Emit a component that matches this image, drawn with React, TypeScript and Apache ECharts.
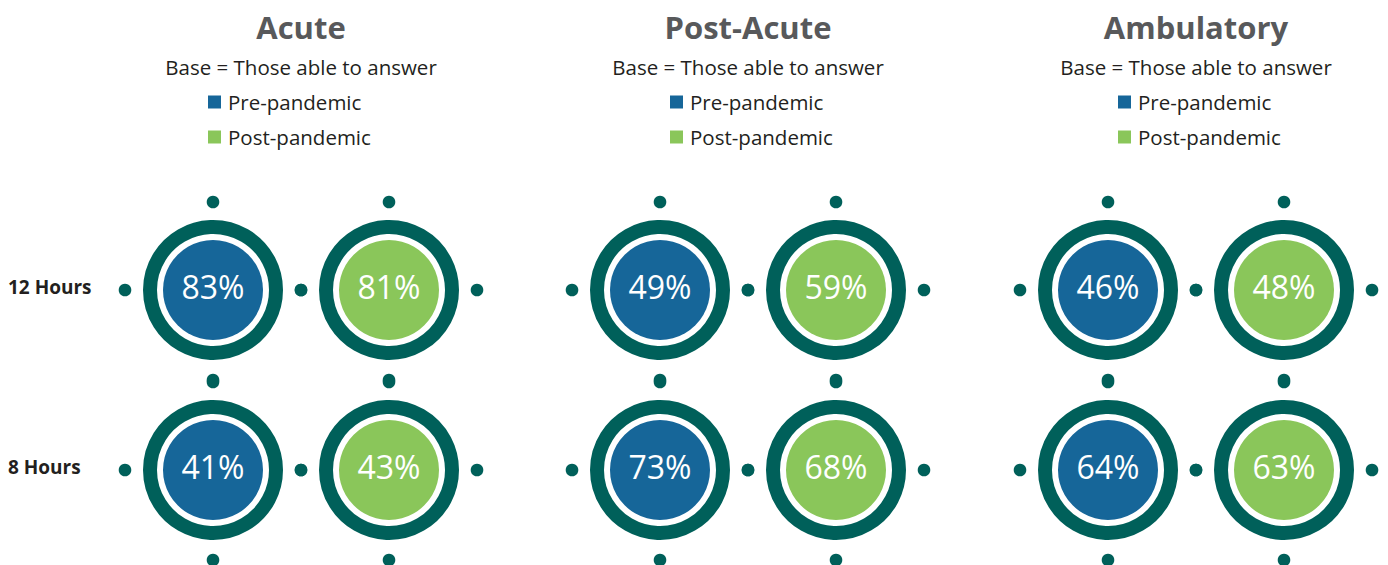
import React, { useEffect, useRef } from 'react';
import * as echarts from 'echarts';

const groups = ['Acute', 'Post-Acute', 'Ambulatory'];
const periods = ['Pre-pandemic', 'Post-pandemic'];
const shifts = ['12 Hours', '8 Hours'];
const subtitle = 'Base = Those able to answer';

// values ordered as [12 Hours, 8 Hours]
const acutePre = [83, 41];
const acutePost = [81, 43];
const postAcutePre = [49, 73];
const postAcutePost = [59, 68];
const ambulatoryPre = [46, 64];
const ambulatoryPost = [48, 63];

const groupValues = [
  [acutePre, acutePost],
  [postAcutePre, postAcutePost],
  [ambulatoryPre, ambulatoryPost],
];

const COLORS = ['#166699', '#8AC65A'];
const RING = '#00605A';
const GRID_LEFT = [125, 572, 1020];
const GRID_TOP = 200;
const CELL_W = 176;
const CELL_H = 180;
const LEGEND_LEFT = [208, 670, 1118];
const FONT = '"Open Sans", "Noto Sans", sans-serif';

const renderItem = (params: any, api: any) => {
  const c = api.coord([api.value(0), api.value(1)]);
  const s = api.size([1, 1]);
  const color = api.visual('color');
  const hx = s[0] / 2;
  const hy = s[1] / 2;
  const dot = (x: number, y: number) => ({
    type: 'circle',
    shape: { cx: x, cy: y, r: 6.3 },
    style: { fill: RING },
  });
  return {
    type: 'group',
    children: [
      dot(c[0] - hx, c[1]),
      dot(c[0] + hx, c[1]),
      dot(c[0], c[1] - hy + 2),
      dot(c[0], c[1] + hy),
      {
        type: 'circle',
        shape: { cx: c[0], cy: c[1], r: 63 },
        style: { fill: 'none', stroke: RING, lineWidth: 14 },
      },
      {
        type: 'circle',
        shape: { cx: c[0], cy: c[1], r: 50 },
        style: { fill: color },
      },
      {
        type: 'text',
        x: c[0],
        y: c[1] - 4,
        style: {
          text: api.value(2) + '%',
          align: 'center',
          verticalAlign: 'middle',
          fill: '#ffffff',
          fontSize: 32,
          fontFamily: FONT,
        },
      },
    ],
  };
};

export default function App() {
  const ref = useRef<HTMLDivElement>(null);

  useEffect(() => {
    if (!ref.current) return;
    const chart = echarts.init(ref.current, undefined, { renderer: 'svg' });

    const grid: any[] = [];
    const xAxis: any[] = [];
    const yAxis: any[] = [];
    const series: any[] = [];
    const title: any[] = [];
    const legend: any[] = [];

    groups.forEach((g, gi) => {
      grid.push({
        left: GRID_LEFT[gi],
        top: GRID_TOP,
        width: CELL_W * 2,
        height: CELL_H * 2,
      });
      xAxis.push({
        type: 'category',
        gridIndex: gi,
        data: periods,
        show: false,
      });
      yAxis.push({
        type: 'category',
        gridIndex: gi,
        data: shifts,
        inverse: true,
        axisLine: { show: false },
        axisTick: { show: false },
        splitLine: { show: false },
        axisLabel: {
          show: gi === 0,
          align: 'left',
          verticalAlign: 'bottom',
          lineHeight: 6,
          margin: GRID_LEFT[0] - 8,
          fontSize: 19,
          fontWeight: 'bold',
          fontFamily: FONT,
          color: '#231F20',
        },
      });
      periods.forEach((p, pi) => {
        series.push({
          type: 'custom',
          name: p,
          xAxisIndex: gi,
          yAxisIndex: gi,
          itemStyle: { color: COLORS[pi] },
          renderItem,
          data: shifts.map((s, si) => [pi, si, groupValues[gi][pi][si]]),
        });
      });
      title.push({
        text: g,
        subtext: subtitle,
        left: GRID_LEFT[gi] + CELL_W,
        top: 11,
        textAlign: 'center',
        padding: 0,
        itemGap: 13,
        textStyle: {
          fontSize: 31,
          fontWeight: 'bold',
          color: '#58595B',
          fontFamily: FONT,
          lineHeight: 32,
        },
        subtextStyle: {
          fontSize: 20.5,
          color: '#231F20',
          fontFamily: FONT,
          lineHeight: 22,
        },
      });
      legend.push({
        orient: 'vertical',
        left: LEGEND_LEFT[gi],
        top: 91,
        padding: 0,
        itemWidth: 13,
        itemHeight: 13,
        itemGap: 13,
        icon: 'rect',
        selectedMode: false,
        data: periods,
        textStyle: {
          fontSize: 20.5,
          lineHeight: 22,
          color: '#231F20',
          fontFamily: FONT,
          padding: [0, 0, 0, 2],
        },
      });
    });

    chart.setOption({
      animation: false,
      backgroundColor: '#ffffff',
      title,
      legend,
      grid,
      xAxis,
      yAxis,
      series,
    });

    return () => chart.dispose();
  }, []);

  return (
    <div
      ref={ref}
      style={{ position: 'absolute', left: 0, top: 0, width: 1388, height: 565 }}
    />
  );
}
